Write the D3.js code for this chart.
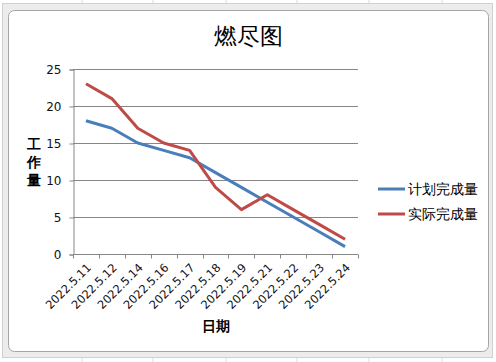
<!DOCTYPE html>
<html>
<head>
<meta charset="utf-8">
<script src="https://d3js.org/d3.v7.min.js"></script>
<style>
  body { margin: 0; background: #fff; }
  svg { display: block; }
  text { font-family: "DejaVu Sans", sans-serif; }
</style>
</head>
<body>
<svg id="chart"></svg>
<script>
  // burndown data
  const dates = ["2022.5.11", "2022.5.12", "2022.5.14", "2022.5.16", "2022.5.17", "2022.5.18",
                 "2022.5.19", "2022.5.21", "2022.5.22", "2022.5.23", "2022.5.24"];
  const planned = [18, 17, 15, 14, 13, 11, 9, 7, 5, 3, 1];
  const actual = [23, 21, 17, 15, 14, 9, 6, 8, 6, 4, 2];
  const yTicks = [0, 5, 10, 15, 20, 25];
  const seriesNames = ["计划完成量", "实际完成量"];
  const colors = ["#4A7EBB", "#BE4B48"];

  const W = 496, H = 362;
  const svg = d3.select("#chart").attr("width", W).attr("height", H);

  // spreadsheet background + chart frame
  svg.append("rect").attr("width", W).attr("height", H).attr("fill", "#fff");
  [82, 153, 226, 297, 369, 442].forEach(x => {
    svg.append("line").attr("x1", x).attr("x2", x).attr("y1", 0).attr("y2", H)
      .attr("stroke", "#dadada");
  });
  svg.append("rect").attr("x", 2.5).attr("y", 3.5).attr("width", 490).attr("height", 354)
    .attr("fill", "#ececec").attr("stroke", "#d0d0d0");
  svg.append("rect").attr("x", 8.5).attr("y", 10.5).attr("width", 480).attr("height", 341)
    .attr("rx", 6).attr("fill", "#fff").attr("stroke", "#a5a5a5");

  const margin = { left: 73, right: 138, top: 69, bottom: 108 };
  const x = d3.scaleBand().domain(dates).range([margin.left, W - margin.right]);
  const y = d3.scaleLinear().domain([0, 25]).range([H - margin.bottom, margin.top]);

  // gridlines
  svg.append("g").selectAll("line").data(yTicks.filter(d => d > 0)).join("line")
    .attr("x1", margin.left).attr("x2", W - margin.right)
    .attr("y1", d => y(d) + 0.5).attr("y2", d => y(d) + 0.5)
    .attr("stroke", "#868686");

  // y axis
  const yAxis = svg.append("g").attr("transform", `translate(${margin.left + 0.5},0.5)`)
    .call(d3.axisLeft(y).tickValues(yTicks).tickSize(4).tickPadding(8));
  yAxis.select(".domain").attr("stroke", "#868686");
  yAxis.selectAll(".tick line").attr("stroke", "#868686");
  yAxis.selectAll("text").attr("font-size", 12).attr("fill", "#111");

  // x axis with ticks at category boundaries
  const xAxisG = svg.append("g").attr("transform", `translate(0,${y(0) + 0.5})`);
  xAxisG.append("line").attr("x1", margin.left).attr("x2", W - margin.right)
    .attr("stroke", "#868686");
  const bounds = dates.map(d => x(d)).concat([x.range()[1]]);
  xAxisG.selectAll(".tk").data(bounds).join("line")
    .attr("x1", d => Math.round(d) + 0.5).attr("x2", d => Math.round(d) + 0.5)
    .attr("y1", 0).attr("y2", 4).attr("stroke", "#868686");
  xAxisG.selectAll(".lbl").data(dates).join("text")
    .attr("transform", d => `translate(${x(d) + x.bandwidth() / 2 + 3},11) rotate(-45)`)
    .attr("text-anchor", "end").attr("font-size", 11.5).attr("fill", "#111")
    .attr("dy", "0.35em")
    .text(d => d);

  // lines
  const line = d3.line()
    .x((d, i) => x(dates[i]) + x.bandwidth() / 2)
    .y(d => y(d));
  [planned, actual].forEach((s, i) => {
    svg.append("path").datum(s).attr("d", line)
      .attr("fill", "none").attr("stroke", colors[i]).attr("stroke-width", 3)
      .attr("stroke-linejoin", "round");
  });

  // title
  svg.append("text").attr("x", 248).attr("y", 44).attr("text-anchor", "middle")
    .attr("font-family", "Noto Sans CJK SC").attr("font-size", 23)
    .text("燃尽图");

  // axis titles
  svg.append("text").attr("x", (margin.left + W - margin.right) / 2).attr("y", 331)
    .attr("text-anchor", "middle").attr("font-family", "Noto Sans CJK SC")
    .attr("font-weight", "bold").attr("font-size", 14).text("日期");
  ["工", "作", "量"].forEach((c, i) => {
    svg.append("text").attr("x", 34).attr("y", 149 + i * 18).attr("text-anchor", "middle")
      .attr("font-family", "Noto Sans CJK SC").attr("font-weight", "bold")
      .attr("font-size", 14).text(c);
  });

  // legend
  const leg = svg.append("g");
  seriesNames.forEach((n, i) => {
    const ly = 189 + i * 25;
    leg.append("line").attr("x1", 378).attr("x2", 405).attr("y1", ly).attr("y2", ly)
      .attr("stroke", colors[i]).attr("stroke-width", 3);
    leg.append("text").attr("x", 408).attr("y", ly).attr("dy", "0.35em")
      .attr("font-family", "Noto Sans CJK SC").attr("font-size", 13.5).text(n);
  });
</script>
</body>
</html>
